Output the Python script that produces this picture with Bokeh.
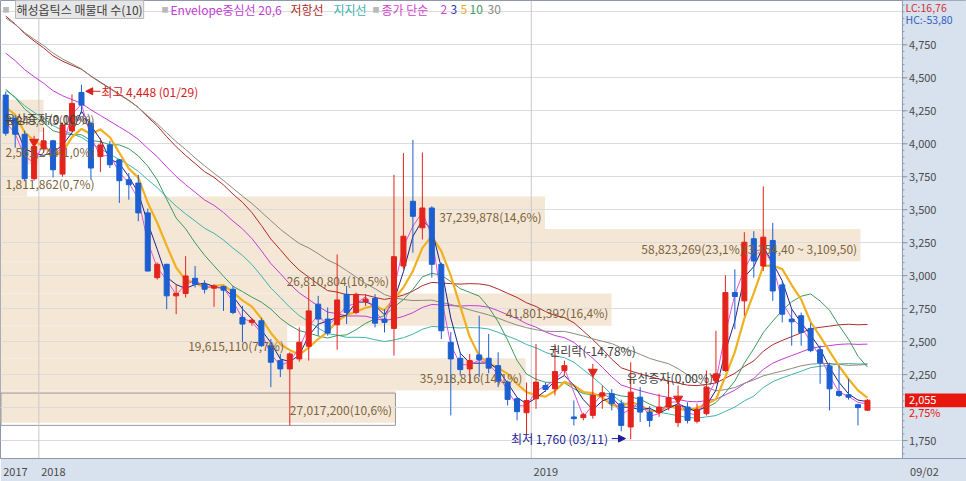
import numpy as np
import pandas as pd
from bokeh.plotting import figure
from bokeh.models import (ColumnDataSource, Range1d, FixedTicker, Label, Span, Arrow, NormalHead)
from bokeh.core.properties import value
from bokeh.embed import file_html
from bokeh.resources import INLINE

# ---------------- data (weekly candles) ----------------
first_week = "2017-12-04"
opens = [4369, 4193, 4072, 3735, 3961, 4022, 3770, 4097, 4389, 4155,
         3903, 3991, 3878, 3727, 3702, 3476, 2985, 3086, 2847, 2865,
         2980, 2935, 2905, 2917, 2897, 2683, 2646, 2658, 2469, 2356,
         2293, 2369, 2465, 2784, 2671, 2628, 2859, 2721, 2804, 2827,
         2671, 2600, 3073, 3564, 3363, 3513, 3086, 2495, 2374, 2293,
         2399, 2374, 2318, 2193, 2067, 1961, 2067, 2167, 2142, 2281,
         1929, 1924, 1941, 2087, 2105, 2029, 1853, 2079, 1966, 1961,
         2004, 1886, 2004, 1896, 1954, 2205, 2281, 2872, 2809, 3280,
         3073, 3267, 2930, 2671, 2696, 2600, 2439, 2314, 2122, 2097,
         2022, 1980]
highs = [4395, 4215, 4100, 4060, 4122, 4030, 4160, 4374, 4448, 4167,
         4042, 4022, 3885, 3778, 3765, 3508, 3100, 3090, 2935, 3148,
         3073, 2965, 2935, 2925, 2922, 2771, 2680, 2680, 2520, 2407,
         2419, 2608, 2922, 2847, 2759, 3161, 2922, 2872, 2860, 2860,
         2746, 3765, 3929, 4029, 3934, 3526, 3100, 2573, 2419, 2407,
         2696, 2558, 2419, 2205, 2080, 2190, 2482, 2190, 2482, 2356,
         2054, 1960, 2331, 2167, 2140, 2060, 2344, 2155, 2010, 2105,
         2205, 2167, 2040, 2030, 2281, 2582, 3003, 3048, 3330, 3337,
         3677, 3400, 2960, 2746, 2720, 2640, 2470, 2340, 2318, 2218,
         2030, 2065]
lows = [4060, 3970, 3720, 3720, 3931, 3745, 3750, 4090, 4230, 3727,
        3785, 3816, 3551, 3576, 3413, 3033, 2970, 2746, 2708, 2834,
        2910, 2865, 2764, 2733, 2708, 2495, 2620, 2460, 2155, 2231,
        1865, 2348, 2356, 2545, 2545, 2439, 2633, 2708, 2771, 2608,
        2570, 2394, 3048, 3174, 3274, 2985, 2520, 1941, 2243, 2180,
        2231, 2260, 2155, 2016, 1903, 1790, 1991, 2120, 2092, 2243,
        1865, 1903, 1916, 1991, 1979, 1820, 1760, 1891, 1853, 1930,
        1980, 1853, 1880, 1880, 1940, 2193, 2270, 2595, 2696, 2985,
        3035, 2809, 2646, 2469, 2469, 2420, 2180, 1979, 2080, 2060,
        1865, 1975]
closes = [4080, 4072, 3735, 3979, 4022, 3803, 4142, 4306, 4293, 3816,
          3991, 3841, 3720, 3690, 3476, 3035, 3086, 2847, 2865, 2998,
          2935, 2897, 2922, 2890, 2721, 2633, 2663, 2469, 2344, 2293,
          2407, 2495, 2733, 2671, 2565, 2816, 2721, 2859, 2822, 2640,
          2646, 3144, 3299, 3450, 3513, 3086, 2582, 2369, 2288, 2356,
          2364, 2299, 2199, 2062, 1969, 2054, 2193, 2137, 2273, 2318,
          1916, 1946, 2092, 2112, 2029, 1865, 2117, 1966, 1903, 2004,
          2075, 2012, 1903, 1986, 2155, 2256, 2872, 2842, 3254, 3111,
          3292, 2884, 2708, 2650, 2570, 2432, 2339, 2142, 2092, 2079,
          2000, 2055]
# weekly closes before the visible window (estimated from where the averages enter)
prior_closes = [5600, 5550, 5500, 5450, 5520, 5480, 5400, 5450, 5500, 5450,
                5200, 5100, 5050, 5000, 4950, 4900, 4900, 4850, 4800, 4850,
                4700, 4600, 4550, 4500, 4400, 4350, 4400, 4300, 4250]

# volume profile (매물대), bottom band first
profile_volumes = [27017200, 35918816, 19615110, 41801392, 26810804,
                   58823269, 37239878, 1811862, 2561244, 2949373]
profile_pcts = ["10,6", "14,1", "7,7", "16,4", "10,5", "23,1", "14,6", "0,7", "1,0", "1,1"]
profile_low = 1885.0
profile_step = 244.9

price_ticks = [1750, 2250, 2500, 2750, 3000, 3250, 3500, 3750, 4000, 4250, 4500, 4750]
grid_levels = [1750, 2000, 2250, 2500, 2750, 3000, 3250, 3500, 3750, 4000, 4250, 4500, 4750, 5000]
year_bounds = [-0.5, 3.5, 55.5]
year_labels = ["2017", "2018", "2019"]

event_index = [3, 62, 71, 75]
event_text = ["유상증자(0,00%)", "권리락(-14,78%)", "", "유상증자(0,00%)"]

last_change = "2,75%"
lc_text = "LC:16,76"
hc_text = "HC:-53,80"

# ---------------- derived ----------------
dates = pd.date_range(first_week, periods=len(closes), freq="7D")
idx = np.arange(len(closes))
o = np.array(opens, float); h = np.array(highs, float)
l = np.array(lows, float); c = np.array(closes, float)
all_c = pd.Series(list(prior_closes) + list(closes), dtype=float)
npre = len(prior_closes)

def sma(n):
    return all_c.rolling(n).mean().to_numpy()[npre:]

RED = "#e4231b"
BLUE = "#1b5fd0"
FONT = "Noto Sans CJK KR"
PANEL = "#d8e2ee"
AXC = "#8c99aa"

W, H = 966, 481
FH = 460
XMIN, XMAX = -0.55, 101.46
PX = 9.47                       # pixels per week
def X(px):                      # pixel column -> week index
    return XMIN + px / PX
def T(yr):                      # pixel row -> screen y from frame bottom
    return FH - yr

p = figure(width=W, height=H, output_backend="svg", toolbar_location=None,
           x_range=Range1d(XMIN, XMAX), y_range=Range1d(1614, 5086),
           x_axis_location="below", y_axis_location=None,
           min_border_left=0, min_border_top=0, min_border_right=0, min_border_bottom=H - FH,
           background_fill_color="white", border_fill_color=PANEL,
           outline_line_color=AXC)

panel_left = X(902)
last_lab = dates[-1].strftime("%m/%d")

xa = p.xaxis[0]
# labels are centred on their ticks: put each tick half a label-width right of its boundary
xticks = [b + 14.5 / PX for b in year_bounds] + [panel_left + 22 / PX]
xa.ticker = FixedTicker(ticks=xticks)
xa.major_label_overrides = {t: s for t, s in zip(xticks, year_labels + [last_lab])}
xa.major_label_text_font = FONT
xa.major_label_text_font_size = "11px"
xa.major_label_text_color = "#4a4a4a"
xa.axis_line_color = AXC
xa.major_tick_line_color = None
xa.major_tick_in = 0; xa.major_tick_out = 2
xa.minor_tick_line_color = None
xa.major_label_standoff = 2

p.xgrid.visible = False
p.ygrid.ticker = FixedTicker(ticks=grid_levels)
p.ygrid.grid_line_color = "#dcdcdc"
p.ygrid.level = "underlay"

# volume profile bands
edges = profile_low + profile_step * np.arange(len(profile_volumes) + 1)
vmax = max(profile_volumes)
full = X(860) - XMIN
rights = [XMIN + v / vmax * full for v in profile_volumes]
band_src = ColumnDataSource(dict(left=[XMIN] * len(rights), right=rights,
                                 bottom=edges[:-1], top=edges[1:]))
p.quad(left="left", right="right", bottom="bottom", top="top", source=band_src,
       fill_color="#f5e7d6", line_color=None, level="image")
cur_band = int(np.searchsorted(edges, c[-1]) - 1)
p.quad(left=[XMIN + 0.05], right=[rights[cur_band]], bottom=[edges[cur_band] - 20],
       top=[edges[cur_band + 1] - 20],
       fill_color=None, line_color="#9a9a9a", line_width=1, level="underlay")

for k, (v, pct) in enumerate(zip(profile_volumes, profile_pcts)):
    txt = f"{v:,}({pct}%)"
    if v == vmax:
        lo_s = f"{edges[k]:,.2f}".replace(".", ",")
        hi_s = f"{edges[k + 1]:,.2f}".replace(".", ",")
        txt += f"({hi_s} ~ {lo_s})"
    mid = (edges[k] + edges[k + 1]) / 2 - 25
    if v / vmax < 0.15:
        p.add_layout(Label(x=X(5), y=mid, text=txt, text_align="left", text_baseline="middle",
                           text_font=FONT, text_font_size="12px", text_color="#7d6440"))
    else:
        p.add_layout(Label(x=rights[k] - 0.35, y=mid, text=txt, text_align="right", text_baseline="middle",
                           text_font=FONT, text_font_size="12px", text_color="#7d6440"))

# year separators
for t in year_bounds[1:]:
    p.add_layout(Span(location=t, dimension="height", line_color="#c9c9c9", line_width=1, level="underlay"))

# envelope and moving averages
ma20 = sma(20)
p.line(idx, ma20 * 1.06, line_color="#b02a2a", line_width=1)
p.line(idx, ma20, line_color="#c23cd6", line_width=1)
p.line(idx, ma20 * 0.94, line_color="#3fb3ad", line_width=1)
p.line(idx, sma(30), line_color="#8a8a7c", line_width=1)
p.line(idx, sma(10), line_color="#3d9a5c", line_width=1)
p.line(idx, sma(5), line_color="#f0b020", line_width=2.2)
p.line(idx, sma(3), line_color="#22228a", line_width=1)
p.line(idx, sma(2), line_color="#e050e0", line_width=1)

# candles
colors = np.where(c >= o, RED, BLUE)
csrc = ColumnDataSource(dict(x=idx, top=np.maximum(o, c), bottom=np.minimum(o, c),
                             high=h, low=l, color=colors))
p.segment(x0="x", y0="low", x1="x", y1="high", line_color="color", line_width=1, source=csrc)
p.vbar(x="x", width=0.53, top="top", bottom="bottom", fill_color="color", line_color="color",
       line_width=1, source=csrc)

# events
ev_y = {3: 4014, 62: 2271, 71: 2067, 75: 2225}
p.scatter(event_index, [ev_y[i] for i in event_index], marker="inverted_triangle",
          size=9, fill_color=RED, line_color=RED)
p.add_layout(Label(x=X(4), y=4190, text=event_text[0], text_baseline="middle",
                   text_font=FONT, text_font_size="12px", text_color="#404040"))
p.add_layout(Label(x=event_index[1] - 4.6, y=2430, text=event_text[1], text_baseline="middle",
                   text_font=FONT, text_font_size="12px", text_color="#404040"))
p.add_layout(Label(x=event_index[3] - 0.3, y=2225, text=event_text[3], text_align="right",
                   text_baseline="middle", text_font=FONT, text_font_size="12px", text_color="#404040"))

# highest / lowest
hi_i = int(np.argmax(h)); lo_i = int(np.argmin(l))
p.add_layout(Arrow(end=NormalHead(size=7, fill_color="#d42020", line_color="#d42020"),
                   x_start=hi_i + 2.0, y_start=h[hi_i] - 50, x_end=hi_i + 0.45, y_end=h[hi_i] - 50,
                   line_color="#d42020", line_width=1))
p.add_layout(Label(x=hi_i + 2.1, y=h[hi_i] - 50,
                   text=f"최고 {int(h[hi_i]):,} ({dates[hi_i]:%m/%d})", text_baseline="middle",
                   text_font=FONT, text_font_size="12px", text_color="#d42020"))
p.add_layout(Arrow(end=NormalHead(size=7, fill_color="#1e1e9a", line_color="#1e1e9a"),
                   x_start=lo_i - 2.0, y_start=l[lo_i] + 5, x_end=lo_i - 0.55, y_end=l[lo_i] + 5,
                   line_color="#1e1e9a", line_width=1))
p.add_layout(Label(x=lo_i - 2.4, y=l[lo_i] + 5, text_align="right",
                   text=f"최저 {int(l[lo_i]):,} ({dates[lo_i]:%m/%d})", text_baseline="middle",
                   text_font=FONT, text_font_size="12px", text_color="#1e1e9a"))

# ---------------- right price panel (inside the frame, on the price scale) ----------------
p.quad(left=[panel_left], right=[XMAX], bottom=[1614], top=[5086], fill_color=PANEL, line_color=None)
p.segment(x0=[panel_left], y0=[1614], x1=[panel_left], y1=[5086], line_color=AXC, line_width=1)
minor = [v for v in range(1650, 5100, 50)]
p.segment(x0=[panel_left] * len(minor), y0=minor, x1=[panel_left + 2 / PX] * len(minor), y1=minor,
          line_color=AXC, line_width=1)
p.segment(x0=[panel_left] * len(price_ticks), y0=price_ticks,
          x1=[panel_left + 5 / PX] * len(price_ticks), y1=price_ticks, line_color=AXC, line_width=1)
p.text(x=[panel_left + 6.5 / PX] * len(price_ticks), y=price_ticks,
       text=[f"{t:,}" for t in price_ticks], text_font=value(FONT), text_font_size="11px",
       text_color="#4a4a4a", text_align="left", text_baseline="middle")
p.quad(left=[panel_left + 2.5 / PX], right=[XMAX], bottom=[c[-1] - 52], top=[c[-1] + 52],
       fill_color="#e8170e", line_color=None)
p.text(x=[panel_left + 6.5 / PX], y=[c[-1]], text=[f"{int(c[-1]):,}"], text_font=value(FONT),
       text_font_size="11px", text_color="white", text_align="left", text_baseline="middle")
p.text(x=[panel_left + 6.5 / PX], y=[c[-1] - 88], text=[last_change], text_font=value(FONT),
       text_font_size="11px", text_color="#e8170e", text_align="left", text_baseline="middle")

# ---------------- legend row and panel header ----------------
def slabel(xr, yr, text, color, size="12px", **kw):
    p.add_layout(Label(x=xr, y=T(yr), x_units="screen", y_units="screen", text=text,
                       text_baseline="middle", text_font=FONT, text_font_size=size,
                       text_color=color, **kw))
for xr in (2, 161, 372):
    slabel(xr, 10, "■", "#b9b9b9", size="7px")
slabel(15, 10.5, "해성옵틱스 매물대 수(10)", "#404040", background_fill_color="#e6e6e6",
       border_line_color="#b8b8b8", padding=1)
slabel(170, 10.5, "Envelope중심선 20,6", "#c23cd6")
slabel(290, 10.5, "저항선", "#b02a2a")
slabel(333, 10.5, "지지선", "#3fb3ad")
slabel(381, 10.5, "종가 단순", "#d43fd0")
slabel(440, 10.5, "2", "#d43fd0")
slabel(450, 10.5, "3", "#3333bb")
slabel(460, 10.5, "5", "#f0a820")
slabel(469, 10.5, "10", "#3d9a5c")
slabel(487, 10.5, "30", "#8a8a8a")
slabel(905, 9, lc_text, "#d03030", size="10.5px")
slabel(905, 21, hc_text, "#3060c0", size="10.5px")

open("out.html", "w").write(file_html(p, INLINE))
